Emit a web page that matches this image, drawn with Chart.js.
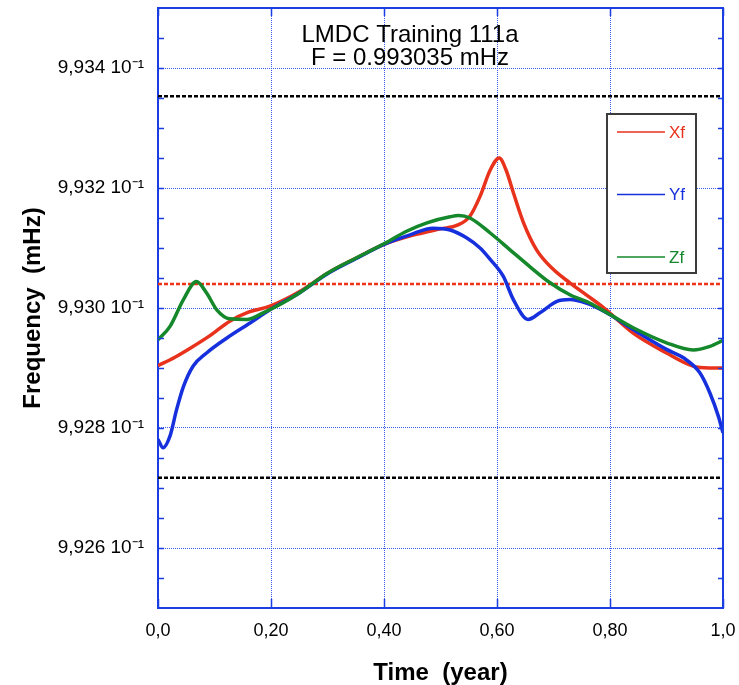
<!DOCTYPE html>
<html>
<head>
<meta charset="utf-8">
<title>LMDC Training 111a</title>
<script src="https://cdn.jsdelivr.net/npm/chart.js@4.4.1/dist/chart.umd.min.js"></script>
<style>
  html, body { margin: 0; padding: 0; background: #fff; }
  canvas { display: block; }
</style>
</head>
<body>
<canvas id="freqChart" width="739" height="685"></canvas>
<script>
var FONT = '"Liberation Sans", Arial, Helvetica, sans-serif';
var AXIS_BLUE = '#1b3ee3';
var GRID_BLUE = 'rgba(40, 75, 235, 0.9)';

var titleLines = ['LMDC Training 111a', 'F = 0.993035 mHz'];

var xTickValues = [0, 0.2, 0.4, 0.6, 0.8, 1.0];
var xTickLabels = ['0,0', '0,20', '0,40', '0,60', '0,80', '1,0'];
var yTickValues = [9.926, 9.928, 9.930, 9.932, 9.934];
var yTickLabels = ['9,926 10⁻¹', '9,928 10⁻¹', '9,930 10⁻¹', '9,932 10⁻¹', '9,934 10⁻¹'];
var yMinorStep = 0.0005;

// Xf
var xfTime = [0.000, 0.030, 0.057, 0.092, 0.127, 0.160, 0.198, 0.250, 0.300, 0.350,
              0.400, 0.450, 0.500, 0.530, 0.552, 0.570, 0.588, 0.604, 0.616, 0.629,
              0.647, 0.670, 0.700, 0.729, 0.758, 0.788, 0.841, 0.900, 0.947, 0.975, 1.000];
var xfFreq = [9.92904, 9.92918, 9.92933, 9.92954, 9.92978, 9.92993, 9.93003, 9.93027, 9.93058, 9.93083,
              9.93106, 9.93121, 9.93132, 9.93138, 9.93153, 9.93186, 9.93230, 9.93250, 9.93230, 9.93192,
              9.93142, 9.93097, 9.93064, 9.93042, 9.93022, 9.93001, 9.92958, 9.92925, 9.92903, 9.92900, 9.92900];

// Yf
var yfTime = [0.000, 0.009, 0.021, 0.033, 0.045, 0.062, 0.086, 0.122, 0.163, 0.198,
              0.250, 0.300, 0.350, 0.400, 0.446, 0.487, 0.517, 0.546, 0.570, 0.588,
              0.611, 0.629, 0.655, 0.676, 0.706, 0.729, 0.758, 0.794, 0.841, 0.900,
              0.930, 0.959, 0.977, 0.992, 1.000];
var yfFreq = [9.92781, 9.92767, 9.92786, 9.92831, 9.92869, 9.92903, 9.92925, 9.92950, 9.92975, 9.92997,
              9.93025, 9.93057, 9.93082, 9.93106, 9.93122, 9.93133, 9.93130, 9.93117, 9.93100, 9.93081,
              9.93053, 9.93014, 9.92981, 9.92992, 9.93011, 9.93014, 9.93008, 9.92992, 9.92964, 9.92931,
              9.92917, 9.92892, 9.92858, 9.92819, 9.92792];

// Zf
var zfTime = [0.000, 0.021, 0.045, 0.068, 0.086, 0.104, 0.127, 0.157, 0.186, 0.220,
              0.250, 0.300, 0.350, 0.400, 0.440, 0.476, 0.517, 0.532, 0.552, 0.588,
              0.623, 0.658, 0.694, 0.729, 0.765, 0.800, 0.841, 0.900, 0.947, 0.977, 1.000];
var zfFreq = [9.92947, 9.92969, 9.93014, 9.93044, 9.93025, 9.92997, 9.92982, 9.92981, 9.92992, 9.93008,
              9.93025, 9.93058, 9.93083, 9.93107, 9.93128, 9.93142, 9.93152, 9.93154, 9.93150, 9.93125,
              9.93097, 9.93069, 9.93042, 9.93022, 9.93008, 9.92989, 9.92967, 9.92942, 9.92930, 9.92936, 9.92946];

// horizontal reference levels
var refCenter = 9.9304;
var refHigh = 9.93353;
var refLow = 9.92717;

function pairs(xs, ys) {
    return xs.map(function (x, i) { return { x: x, y: ys[i] }; });
}

function level(v) {
    return [{ x: 0, y: v }, { x: 1, y: v }];
}

function curve(label, color, xs, ys, order) {
    return {
        label: label,
        data: pairs(xs, ys),
        borderColor: color,
        borderWidth: 3.5,
        pointRadius: 0,
        showLine: true,
        cubicInterpolationMode: 'monotone',
        order: order
    };
}

function refLine(color, v, width) {
    return {
        label: '',
        data: level(v),
        borderColor: color,
        borderWidth: width,
        borderDash: [4, 2],
        pointRadius: 0,
        showLine: true,
        order: 10
    };
}

// labels must not push the plot area inward
function noPadding(scale) {
    scale.paddingTop = 0;
    scale.paddingBottom = 0;
    scale.paddingLeft = 0;
    scale.paddingRight = 0;
}

// frame on top/right plus inward tick marks
var framePlugin = {
    id: 'frame',
    afterDraw: function (chart) {
        var ctx = chart.ctx, a = chart.chartArea;
        var xs = chart.scales.x, ys = chart.scales.y;
        ctx.save();
        ctx.strokeStyle = AXIS_BLUE;
        ctx.lineWidth = 2;
        ctx.beginPath();
        ctx.moveTo(a.left, a.top);
        ctx.lineTo(a.right, a.top);
        ctx.lineTo(a.right, a.bottom);
        ctx.stroke();

        ctx.lineWidth = 1.5;
        ctx.beginPath();
        var n = Math.round((ys.max - ys.min) / yMinorStep);
        for (var i = 1; i < n; i++) {
            var py = Math.round(ys.getPixelForValue(ys.min + i * yMinorStep)) + 0.5;
            ctx.moveTo(a.left, py); ctx.lineTo(a.left + 6, py);
            ctx.moveTo(a.right, py); ctx.lineTo(a.right - 5, py);
        }
        xTickValues.forEach(function (v) {
            var px = Math.round(xs.getPixelForValue(v)) + 0.5;
            ctx.moveTo(px, a.bottom); ctx.lineTo(px, a.bottom - 9);
            ctx.moveTo(px, a.top); ctx.lineTo(px, a.top + 8);
        });
        ctx.stroke();
        ctx.restore();
    }
};

// two-line title inside the plot
var titlePlugin = {
    id: 'innerTitle',
    afterDraw: function (chart) {
        var ctx = chart.ctx, a = chart.chartArea;
        var cx = a.left + (a.right - a.left) * 0.446;
        ctx.save();
        ctx.fillStyle = '#000';
        ctx.font = '24px ' + FONT;
        ctx.textAlign = 'center';
        ctx.textBaseline = 'alphabetic';
        titleLines.forEach(function (t, i) {
            ctx.fillText(t, cx, a.top + 34 + i * 23);
        });
        ctx.restore();
    }
};

// boxed legend in the upper right of the plot
var legendPlugin = {
    id: 'boxLegend',
    afterDraw: function (chart) {
        var ctx = chart.ctx, a = chart.chartArea;
        var items = chart.data.datasets.filter(function (d) { return d.label; });
        var boxL = a.right - 116, boxR = a.right - 27;
        var boxT = a.top + 106, boxB = a.top + 265;
        ctx.save();
        ctx.fillStyle = '#fff';
        ctx.fillRect(boxL, boxT, boxR - boxL, boxB - boxT);
        ctx.strokeStyle = '#3c3c3c';
        ctx.lineWidth = 2;
        ctx.strokeRect(boxL, boxT, boxR - boxL, boxB - boxT);
        ctx.font = '17px ' + FONT;
        ctx.textBaseline = 'middle';
        ctx.textAlign = 'left';
        items.forEach(function (d, i) {
            var y = boxT + 18 + i * 62.5;
            ctx.strokeStyle = d.borderColor;
            ctx.lineWidth = 1.5;
            ctx.beginPath();
            ctx.moveTo(boxL + 10, y);
            ctx.lineTo(boxL + 58, y);
            ctx.stroke();
            ctx.fillStyle = d.borderColor;
            ctx.fillText(d.label, boxL + 62, y + 1);
        });
        ctx.restore();
    }
};

var ctx = document.getElementById('freqChart').getContext('2d');
var chart = new Chart(ctx, {
    type: 'scatter',
    data: {
        datasets: [
            curve('Xf', '#e8321c', xfTime, xfFreq, 3),
            curve('Yf', '#1530dc', yfTime, yfFreq, 2),
            curve('Zf', '#14882a', zfTime, zfFreq, 1),
            refLine('#000000', refHigh, 2.5),
            refLine('#000000', refLow, 2.5),
            refLine('#ee3418', refCenter, 2.5)
        ]
    },
    options: {
        responsive: false,
        animation: false,
        layout: { padding: { top: 8, right: 16, left: 0, bottom: 0 } },
        plugins: {
            legend: { display: false },
            tooltip: { enabled: false }
        },
        scales: {
            x: {
                type: 'linear',
                min: 0,
                max: 1,
                afterBuildTicks: function (scale) {
                    scale.ticks = xTickValues.map(function (v) { return { value: v }; });
                },
                afterFit: function (scale) { scale.height = 77; noPadding(scale); },
                ticks: {
                    padding: 12,
                    color: '#000',
                    font: { family: FONT, size: 18 },
                    maxRotation: 0,
                    callback: function (v, i) { return xTickLabels[i]; }
                },
                grid: { color: GRID_BLUE, lineWidth: 1, drawTicks: false },
                border: { color: AXIS_BLUE, width: 2, dash: [1, 1] },
                title: {
                    display: true,
                    text: 'Time  (year)',
                    color: '#000',
                    font: { family: FONT, size: 24, weight: 'bold', lineHeight: 1 },
                    padding: { top: 0, bottom: 0 }
                }
            },
            y: {
                type: 'linear',
                min: 9.925,
                max: 9.935,
                afterBuildTicks: function (scale) {
                    scale.ticks = yTickValues.map(function (v) { return { value: v }; });
                },
                afterFit: function (scale) { scale.width = 158; noPadding(scale); },
                ticks: {
                    padding: 14,
                    color: '#000',
                    font: { family: FONT, size: 19 },
                    callback: function (v, i) { return yTickLabels[i]; }
                },
                grid: { color: GRID_BLUE, lineWidth: 1, drawTicks: false },
                border: { color: AXIS_BLUE, width: 2, dash: [1, 1] },
                title: {
                    display: true,
                    text: 'Frequency  (mHz)',
                    color: '#000',
                    font: { family: FONT, size: 24, weight: 'bold', lineHeight: 1 },
                    padding: { top: 21, bottom: 0 }
                }
            }
        }
    },
    plugins: [framePlugin, legendPlugin, titlePlugin]
});
</script>
</body>
</html>
